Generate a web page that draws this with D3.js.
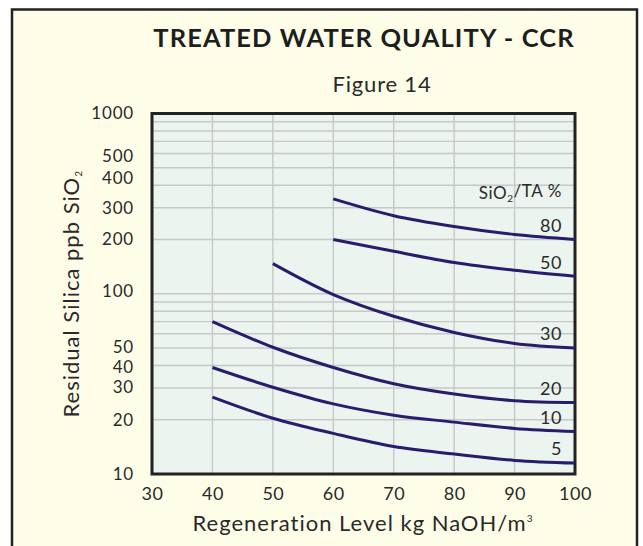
<!DOCTYPE html>
<head>
    <meta charset="utf-8">
    <style>
        body { margin: 0; background: white; }
        text { font-family: Lato, "Open Sans", sans-serif; fill: #2a2a2a; }
    </style>
</head>
<body>
<script src="https://d3js.org/d3.v7.min.js"></script>
<script>

const width = 643;
const height = 546;

// data (regeneration level vs residual silica)
const ratios = ['80', '50', '30', '20', '10', '5'];
const regen80 = [60, 70, 80, 90, 100];
const silica80 = [336, 271, 236, 213, 200];
const regen50 = [60, 70, 80, 90, 100];
const silica50 = [200, 172, 149, 135, 125];
const regen30 = [50, 60, 70, 80, 90, 100];
const silica30 = [147, 99, 75, 61, 53, 50];
const regen20 = [40, 50, 60, 70, 80, 90, 100];
const silica20 = [70, 50.5, 39, 31.7, 27.8, 25.5, 24.9];
const regen10 = [40, 50, 60, 70, 80, 90, 100];
const silica10 = [39, 30.3, 24.5, 21.2, 19.4, 17.9, 17.2];
const regen5 = [40, 50, 60, 70, 80, 90, 100];
const silica5 = [26.7, 20.4, 16.8, 14.2, 12.9, 11.9, 11.5];

const xTicks = [30, 40, 50, 60, 70, 80, 90, 100];
const yTicks = [10, 20, 30, 40, 50, 100, 200, 300, 400, 500, 1000];
const yGrid = [20, 30, 40, 50, 60, 70, 80, 90, 100, 200, 300, 400, 500, 600, 700, 800, 900];

const series = [
    {label: ratios[0], xs: regen80, ys: silica80},
    {label: ratios[1], xs: regen50, ys: silica50},
    {label: ratios[2], xs: regen30, ys: silica30},
    {label: ratios[3], xs: regen20, ys: silica20},
    {label: ratios[4], xs: regen10, ys: silica10},
    {label: ratios[5], xs: regen5, ys: silica5}
];

const plot = {left: 152, right: 575, top: 113.5, bottom: 474};

const svg = d3.select('body').append('svg')
    .attr('width', width)
    .attr('height', height);

// frame
svg.append('rect')
    .attr('x', 12).attr('y', 9.5)
    .attr('width', 625).attr('height', 560)
    .style('fill', '#fefee8')
    .style('stroke', '#222')
    .style('stroke-width', 2.5);

const x = d3.scaleLinear().domain([30, 100]).range([plot.left, plot.right]);
const y = d3.scaleLog().domain([10, 1000]).range([plot.bottom, plot.top]);

svg.append('rect')
    .attr('x', plot.left).attr('y', plot.top)
    .attr('width', plot.right - plot.left).attr('height', plot.bottom - plot.top)
    .style('fill', '#ebf4ef');

const grid = svg.append('g')
    .style('stroke', '#c8c8c8')
    .style('stroke-width', 1.4);

grid.selectAll('line.v').data(xTicks.slice(1, -1)).join('line')
    .attr('class', 'v')
    .attr('x1', d => x(d)).attr('x2', d => x(d))
    .attr('y1', plot.top).attr('y2', plot.bottom);

grid.selectAll('line.h').data(yGrid).join('line')
    .attr('class', 'h')
    .attr('x1', plot.left).attr('x2', plot.right)
    .attr('y1', d => y(d)).attr('y2', d => y(d));

svg.append('rect')
    .attr('x', plot.left).attr('y', plot.top)
    .attr('width', plot.right - plot.left).attr('height', plot.bottom - plot.top)
    .style('fill', 'none')
    .style('stroke', '#222')
    .style('stroke-width', 3);

// curves
const line = d3.line()
    .x(d => x(d[0]))
    .y(d => y(d[1]))
    .curve(d3.curveCatmullRom.alpha(0.5));

series.forEach((s) => {
    const pts = s.xs.map((v, i) => [v, s.ys[i]]);
    svg.append('path')
        .attr('d', line(pts))
        .style('fill', 'none')
        .style('stroke', '#2a1c6c')
        .style('stroke-width', 3);

    svg.append('text')
        .attr('x', 562)
        .attr('y', y(s.ys[s.ys.length - 1]) - 14)
        .attr('dy', '0.35em')
        .attr('text-anchor', 'end')
        .style('font-size', '18px')
        .style('letter-spacing', '0.5px')
        .text(s.label);
});

const legendTitle = svg.append('text')
    .attr('x', 562).attr('y', 193)
    .attr('dy', '0.35em')
    .attr('text-anchor', 'end')
    .style('font-size', '17px')
    .style('letter-spacing', '0.6px');
legendTitle.append('tspan').text('SiO');
legendTitle.append('tspan').attr('dy', '0.3em').style('font-size', '10px').text('2');
legendTitle.append('tspan').attr('dy', '-0.3em').text('/TA %');

// axes labels
const xAxis = svg.append('g')
    .attr('transform', `translate(0, ${plot.bottom})`)
    .call(d3.axisBottom(x).tickValues(xTicks).tickSize(0).tickPadding(13));
xAxis.select('.domain').remove();
xAxis.selectAll('text')
    .style('font-size', '18px')
    .style('letter-spacing', '0.5px')
    .style('font-family', 'Lato, sans-serif')
    .style('fill', '#2a2a2a');

// the figure sets some labels a little off their lines
const labelNudge = {500: -12, 400: -7, 100: -3, 50: -1, 40: 2, 30: -1};
const yAxis = svg.append('g')
    .attr('transform', `translate(${plot.left}, 0)`)
    .call(d3.axisLeft(y).tickValues(yTicks).tickFormat(d3.format('d')).tickSize(0).tickPadding(18));
yAxis.select('.domain').remove();
yAxis.selectAll('text')
    .attr('y', d => labelNudge[d] || 0)
    .style('font-size', '17px')
    .style('letter-spacing', '0.8px')
    .style('font-family', 'Lato, sans-serif')
    .style('fill', '#2a2a2a');

// titles
svg.append('text')
    .attr('x', 364).attr('y', 46.5)
    .attr('text-anchor', 'middle')
    .style('font-size', '25.5px')
    .style('font-weight', 'bold')
    .style('letter-spacing', '1.1px')
    .style('fill', '#1e1e1e')
    .text('TREATED WATER QUALITY - CCR');

svg.append('text')
    .attr('x', 382).attr('y', 91.5)
    .attr('text-anchor', 'middle')
    .style('font-size', '22px')
    .style('letter-spacing', '0.8px')
    .text('Figure 14');

const xTitle = svg.append('text')
    .attr('x', 363).attr('y', 531)
    .attr('text-anchor', 'middle')
    .style('font-size', '22px')
    .style('letter-spacing', '1px');
xTitle.append('tspan').text('Regeneration Level kg NaOH/m');
xTitle.append('tspan').attr('dy', '-0.9em').style('font-size', '10px').text('3');

const yTitle = svg.append('text')
    .attr('transform', `translate(79, ${(plot.top + plot.bottom) / 2}) rotate(-90)`)
    .attr('text-anchor', 'middle')
    .style('font-size', '22px')
    .style('letter-spacing', '1px');
yTitle.append('tspan').text('Residual Silica ppb SiO');
yTitle.append('tspan').attr('dy', '0.3em').style('font-size', '10px').text('2');

</script>
</body>
</html>
